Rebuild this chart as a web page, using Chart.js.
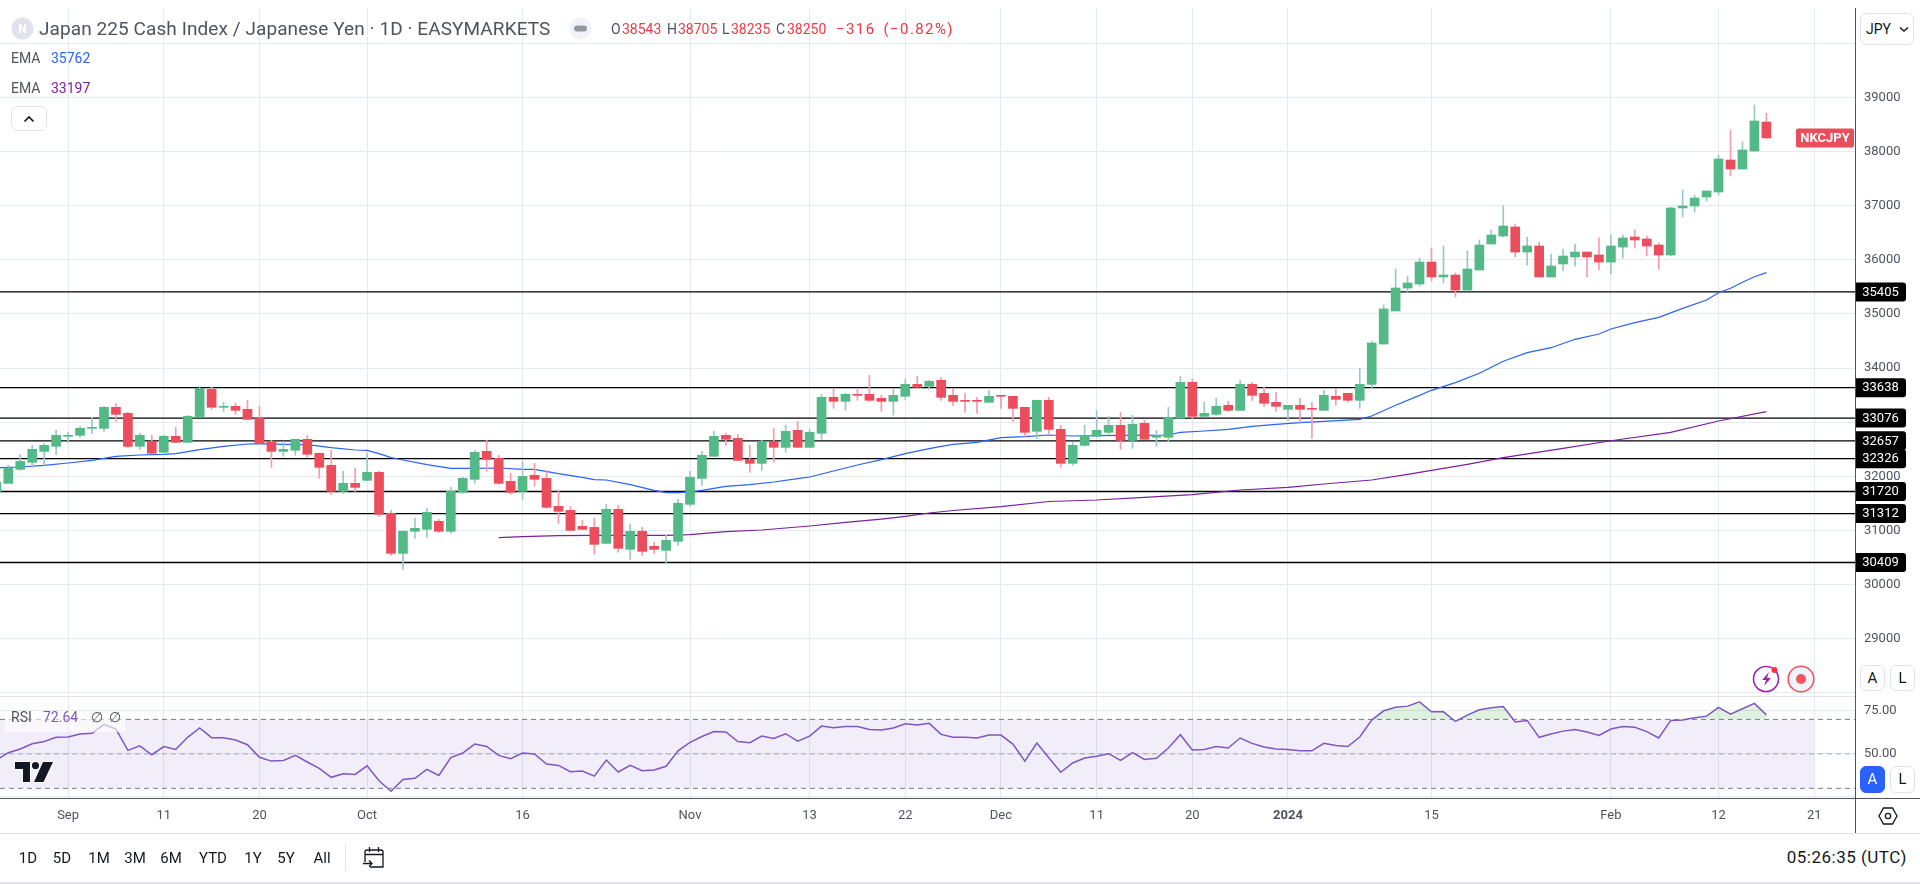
<!DOCTYPE html>
<html>
<head>
<meta charset="utf-8">
<script src="https://cdn.jsdelivr.net/npm/chart.js@4"></script>
<style>
  html, body { margin: 0; padding: 0; background: #fff; overflow: hidden; }
  body { width: 1920px; height: 884px; position: relative; font-family: Roboto, sans-serif; color: #50535e; }
  canvas { position: absolute; left: 0; }
  .t { position: absolute; white-space: nowrap; line-height: 20px; font-size: 14px; }
  .r { color: #f23645; }
  .line { position: absolute; }
  .btn { position: absolute; box-sizing: border-box; border: 1px solid #e0e3eb; border-radius: 6px; background: #fff;
         text-align: center; color: #131722; font-size: 15px; }
  .rng { position: absolute; top: 848px; line-height: 20px; font-size: 15px; color: #131722; transform: translateX(-50%); }
</style>
</head>
<body>
<canvas id="main" width="1920" height="688" style="top:8px"></canvas>
<canvas id="rsi" width="1920" height="136" style="top:697px"></canvas>

<div class="line" style="left:0;top:696px;width:1855px;height:1px;background:#e0e3eb"></div>
<div class="line" style="left:0;top:798px;width:1920px;height:1px;background:#50535e"></div>
<div class="line" style="left:1855px;top:8px;width:1px;height:825px;background:#50535e"></div>
<div class="line" style="left:0;top:833px;width:1920px;height:1px;background:#e0e3eb"></div>
<div class="line" style="left:0;top:882px;width:1920px;height:2px;background:#e0e3eb"></div>
<div class="line" style="left:345px;top:844px;width:1px;height:27px;background:#e0e3eb"></div>

<svg style="position:absolute;left:11px;top:17px" width="23" height="23"><circle cx="11.5" cy="11.5" r="11" fill="#e0e3eb"/><text x="11.5" y="16" text-anchor="middle" font-size="12" font-weight="700" fill="#fff" font-family="Roboto">N</text></svg>
<div class="t" style="left:39px;top:19px;font-size:19px;letter-spacing:.08px">Japan 225 Cash Index / Japanese Yen · 1D · EASYMARKETS</div>
<svg style="position:absolute;left:569px;top:17px" width="23" height="23"><circle cx="11.5" cy="11.5" r="11" fill="#f0f3fa"/><rect x="5" y="8.5" width="13" height="6" rx="3" fill="#9598a1"/></svg>
<div class="t" style="left:611px;top:19px">O</div><div class="t r" style="left:622px;top:19px">38543</div>
<div class="t" style="left:667px;top:19px">H</div><div class="t r" style="left:678px;top:19px">38705</div>
<div class="t" style="left:722px;top:19px">L</div><div class="t r" style="left:731px;top:19px">38235</div>
<div class="t" style="left:776px;top:19px">C</div><div class="t r" style="left:787px;top:19px">38250</div>
<div class="t r" style="left:836px;top:19px;font-size:15px;letter-spacing:1.4px;word-spacing:3px">−316 (−0.82%)</div>

<div class="t" style="left:11px;top:48px">EMA</div><div class="t" style="left:51px;top:48px;color:#2962ff">35762</div>
<div class="t" style="left:11px;top:78px">EMA</div><div class="t" style="left:51px;top:78px;color:#7b1fa2">33197</div>
<div class="btn" style="left:11px;top:106px;width:36px;height:25px"><svg width="12" height="8" style="margin-top:8px"><path d="M1.5 6.5L6 2l4.5 4.5" fill="none" stroke="#131722" stroke-width="1.6"/></svg></div>

<div class="btn" style="left:1860px;top:13px;width:54px;height:32px;text-align:left;font-size:14px;line-height:30px;padding-left:5px">JPY<svg width="10" height="7" style="margin-left:8px;vertical-align:1px"><path d="M1 1.5l4 3.5 4-3.5" fill="none" stroke="#131722" stroke-width="1.5"/></svg></div>

<svg style="position:absolute;left:1752px;top:665px" width="30" height="28"><circle cx="14" cy="14" r="12.5" fill="none" stroke="#9c27b0" stroke-width="1.6"/><path d="M17 7l-7 8h4l-2 6 7-8h-4z" fill="#9c27b0"/><circle cx="22.5" cy="5" r="3" fill="#f23645"/></svg>
<svg style="position:absolute;left:1787px;top:665px" width="28" height="28"><circle cx="14" cy="14" r="12.8" fill="#f0f3fa" stroke="#f7525f" stroke-width="1.6"/><circle cx="14" cy="14" r="5" fill="#f7525f"/></svg>
<div class="btn" style="left:1860px;top:665px;width:25px;height:26px;line-height:24px">A</div>
<div class="btn" style="left:1890px;top:665px;width:25px;height:26px;line-height:24px">L</div>
<div class="btn" style="left:1860px;top:766px;width:25px;height:27px;line-height:25px;background:#2962ff;border-color:#2962ff;color:#fff">A</div>
<div class="btn" style="left:1890px;top:766px;width:25px;height:27px;line-height:25px">L</div>
<svg style="position:absolute;left:1878px;top:806px" width="20" height="20"><path d="M5.5 2h9l4.5 8-4.5 8h-9L1 10z" fill="none" stroke="#131722" stroke-width="1.3"/><circle cx="10" cy="10" r="2.6" fill="none" stroke="#131722" stroke-width="1.3"/></svg>

<div class="line" style="left:5px;top:712px;width:120px;height:20px;background:rgba(255,255,255,.6)"></div>
<div class="t" style="left:11px;top:707px">RSI</div>
<div class="t" style="left:43px;top:707px;color:#7e57c2">72.64</div>
<div class="t" style="left:91px;top:707px">∅</div>
<div class="t" style="left:109px;top:707px">∅</div>
<svg style="position:absolute;left:13px;top:760px" width="42" height="24"><g transform="translate(2,2)" stroke="#fff" stroke-width="2" paint-order="stroke"><path d="M0 0h15v20H8V7H0z" fill="#131722"/><circle cx="20.5" cy="3.6" r="3.6" fill="#131722"/><path d="M28 0h10l-9.5 20H19z" fill="#131722"/></g></svg>

<div class="rng" style="left:28px">1D</div>
<div class="rng" style="left:62px">5D</div>
<div class="rng" style="left:99px">1M</div>
<div class="rng" style="left:135px">3M</div>
<div class="rng" style="left:171px">6M</div>
<div class="rng" style="left:213px">YTD</div>
<div class="rng" style="left:253px">1Y</div>
<div class="rng" style="left:286px">5Y</div>
<div class="rng" style="left:322px">All</div>
<svg style="position:absolute;left:362px;top:845px" width="25" height="25"><path d="M3 7a2 2 0 0 1 2-2h14a2 2 0 0 1 2 2v15h-13M3 17V7M3 9.5h18M7.5 2v5M16.5 2v5" fill="none" stroke="#131722" stroke-width="1.3"/><path d="M1 18.5h9M7 15.5l3 3-3 3" fill="none" stroke="#131722" stroke-width="1.3"/></svg>
<div class="t" style="right:13px;top:847px;font-size:17px;letter-spacing:.5px;color:#131722">05:26:35 (UTC)</div>

<script>
// first candle sits at index -1, half cut off by the left edge
const firstBar = -1;

const opens = [
  31705, 31871, 32130, 32259, 32462, 32554, 32739, 32758, 32887, 32887,
  33275, 33164, 32554, 32647, 32444, 32739, 32628, 33090, 33607, 33275,
  33293, 33238, 33072, 32628, 32462, 32481, 32684, 32425, 32204, 31723,
  31871, 31926, 32074, 31317, 30578, 30985, 31022, 31169, 30985, 31705,
  31945, 32462, 32333, 31908, 31723, 32019, 31963, 31446, 31372, 31077,
  31058, 30763, 31391, 30652, 30985, 30708, 30634, 30800, 31483, 31963,
  32370, 32758, 32702, 32314, 32240, 32647, 32536, 32850, 32536, 32795,
  33459, 33385, 33515, 33515, 33441, 33385, 33478, 33699, 33663, 33773,
  33496, 33404, 33404, 33367, 33496, 33478, 33275, 32831, 33404, 32868,
  32240, 32573, 32739, 32813, 32942, 32665, 32979, 32721, 32721, 33072,
  33736, 33108, 33145, 33312, 33219, 33699, 33533, 33367, 33238, 33312,
  33256, 33219, 33478, 33533, 33404, 33699, 34444, 35054, 35478, 35552,
  35958, 35682, 35718, 35441, 35811, 36291, 36439, 36605, 36143, 36254,
  35682, 35922, 36051, 36143, 36088, 35958, 36235, 36420, 36383, 36272,
  36088, 36956, 36993, 37159, 37251, 37842, 37676, 38008, 38543
];
const highs = [
  31890, 32204, 32407, 32573, 32604, 32850, 32813, 32924, 33090, 33293,
  33349, 33182, 32795, 32758, 32758, 32905, 33127, 33663, 33644, 33367,
  33349, 33404, 33293, 32665, 32647, 32684, 32758, 32425, 32481, 32093,
  32148, 32425, 32093, 31372, 31003, 31225, 31409, 31206, 31797, 31982,
  32481, 32665, 32388, 32056, 32277, 32240, 32111, 31742, 31446, 31188,
  31225, 31483, 31465, 31114, 31058, 30781, 30911, 31576, 32093, 32462,
  32831, 32795, 32776, 32573, 32665, 32887, 32942, 33016, 32868, 33515,
  33626, 33533, 33607, 33866, 33496, 33607, 33792, 33847, 33773, 33829,
  33626, 33533, 33459, 33589, 33496, 33478, 33275, 33404, 33459, 32942,
  32628, 32942, 33219, 33108, 33182, 33127, 33034, 32850, 33275, 33847,
  33792, 33367, 33441, 33385, 33773, 33736, 33644, 33552, 33312, 33441,
  33367, 33589, 33626, 33533, 33995, 34499, 35165, 35829, 35700, 36032,
  36217, 36254, 35755, 36162, 36365, 36549, 36993, 36660, 36420, 36328,
  36106, 36199, 36291, 36143, 36402, 36457, 36457, 36549, 36439, 36309,
  36974, 37288, 37196, 37270, 37935, 38396, 38175, 38858, 38705
];
const lows = [
  31680, 31871, 32111, 32167, 32204, 32407, 32628, 32721, 32795, 32831,
  33016, 32530, 32499, 32425, 32407, 32628, 32628, 33090, 33238, 33201,
  33145, 33053, 32591, 32167, 32370, 32388, 32351, 31963, 31668, 31686,
  31723, 31926, 31262, 30541, 30283, 30855, 30874, 30966, 30948, 31686,
  31871, 32093, 31853, 31668, 31576, 31816, 31409, 31132, 31003, 31022,
  30560, 30763, 30597, 30468, 30541, 30578, 30394, 30726, 31446, 31834,
  32370, 32573, 32296, 32074, 32111, 32259, 32444, 32536, 32536, 32684,
  33256, 33219, 33404, 33385, 33201, 33127, 33422, 33644, 33607, 33404,
  33312, 33182, 33164, 33367, 33256, 33016, 32721, 32702, 32795, 32167,
  32204, 32554, 32721, 32776, 32499, 32517, 32684, 32554, 32647, 33072,
  33072, 33108, 33127, 33201, 33219, 33404, 33293, 33201, 33034, 32979,
  32702, 33219, 33312, 33367, 33256, 33631, 34444, 35054, 35404, 35515,
  35608, 35571, 35312, 35423, 35811, 36291, 36420, 36051, 35903, 35682,
  35682, 35792, 35885, 35682, 35811, 35737, 36032, 36217, 36069, 35829,
  36069, 36790, 36882, 37085, 37196, 37547, 37676, 38008, 38235
];
const closes = [
  31890, 32154, 32277, 32499, 32573, 32758, 32758, 32887, 32905, 33275,
  33145, 32554, 32758, 32425, 32739, 32628, 33108, 33626, 33275, 33293,
  33219, 33053, 32610, 32462, 32499, 32684, 32407, 32167, 31723, 31871,
  31797, 32074, 31299, 30578, 30985, 31040, 31335, 30985, 31723, 31963,
  32444, 32314, 31871, 31705, 32000, 31945, 31428, 31354, 31003, 31022,
  30745, 31391, 30671, 30985, 30615, 30652, 30818, 31502, 31982, 32388,
  32739, 32684, 32296, 32240, 32647, 32536, 32831, 32536, 32813, 33459,
  33385, 33515, 33496, 33404, 33385, 33496, 33699, 33644, 33755, 33459,
  33385, 33385, 33385, 33478, 33478, 33256, 32813, 33404, 32868, 32240,
  32573, 32758, 32850, 32942, 32665, 32961, 32684, 32739, 33090, 33736,
  33108, 33164, 33293, 33219, 33699, 33496, 33349, 33293, 33312, 33238,
  33238, 33496, 33422, 33404, 33699, 34463, 35091, 35478, 35571, 35958,
  35682, 35718, 35441, 35829, 36272, 36457, 36623, 36143, 36254, 35682,
  35885, 36069, 36143, 36051, 35958, 36254, 36402, 36365, 36254, 36088,
  36956, 36993, 37140, 37270, 37861, 37676, 38027, 38562, 38250
];

// EMA lines, vertices
const emaFastBars = [-1, 1, 3, 5, 7, 9, 11, 13, 14, 16, 18, 20, 21, 23, 25, 27, 29, 30, 31, 32, 33, 35, 37, 39, 41, 43, 44, 46, 48, 49, 50, 52, 54, 55, 56, 57, 58, 60, 62, 64, 66, 67, 69, 71, 73, 75, 77, 78, 79, 81, 83, 85, 87, 89, 91, 93, 95, 97, 98, 100, 102, 104, 106, 108, 110, 113, 114, 116, 118, 119, 121, 123, 125, 127, 129, 131, 133, 134, 136, 138, 140, 142, 143, 144, 145, 146, 147];
const emaFastVals = [32160, 32173, 32204, 32247, 32296, 32370, 32394, 32407, 32419, 32493, 32554, 32598, 32604, 32591, 32585, 32530, 32487, 32481, 32419, 32345, 32302, 32216, 32148, 32148, 32154, 32130, 32130, 32050, 31982, 31939, 31933, 31846, 31742, 31699, 31699, 31711, 31742, 31816, 31846, 31896, 31957, 31988, 32099, 32210, 32308, 32419, 32511, 32554, 32591, 32628, 32714, 32733, 32764, 32745, 32751, 32758, 32758, 32764, 32813, 32838, 32868, 32924, 32961, 32992, 33016, 33053, 33115, 33312, 33496, 33589, 33730, 33903, 34125, 34284, 34376, 34531, 34629, 34722, 34838, 34937, 35103, 35257, 35392, 35473, 35584, 35687, 35762];
const emaSlowBars = [41, 43, 46, 49, 52, 55, 57, 60, 63, 67, 70, 73, 75, 77, 79, 83, 87, 91, 95, 99, 103, 107, 110, 114, 117, 122, 125, 130, 134, 139, 143, 147];
const emaSlowVals = [30868, 30886, 30905, 30911, 30911, 30911, 30923, 30979, 31009, 31083, 31151, 31212, 31262, 31323, 31370, 31440, 31536, 31563, 31613, 31661, 31748, 31798, 31859, 31933, 32038, 32223, 32345, 32518, 32658, 32813, 33022, 33197];

const rsiVals = [
  46.4, 50.7, 52.8, 55.9, 57.2, 59.6, 59.8, 61.5, 61.9, 67.1,
  64.4, 52.0, 54.7, 49.5, 54.2, 52.6, 59.6, 65.0, 59.4, 59.4,
  58.0, 55.3, 48.0, 45.8, 46.2, 49.1, 45.3, 41.6, 36.4, 38.5,
  38.1, 43.1, 34.4, 28.3, 35.2, 35.8, 41.0, 37.5, 47.8, 50.5,
  55.7, 54.3, 49.1, 47.2, 50.5, 49.9, 44.1, 43.3, 39.7, 40.0,
  37.1, 46.4, 39.5, 43.3, 40.2, 40.6, 42.8, 51.8, 56.7, 60.1,
  63.0, 62.7, 57.2, 56.5, 60.3, 59.0, 61.7, 57.4, 60.3, 66.1,
  65.2, 65.9, 65.9, 64.2, 63.8, 65.0, 67.5, 66.7, 67.7, 61.3,
  59.6, 59.6, 59.2, 60.9, 60.9, 55.7, 45.8, 56.3, 47.8, 39.3,
  44.7, 47.6, 48.6, 50.1, 46.2, 50.7, 46.8, 47.4, 53.4, 61.1,
  52.2, 52.6, 54.3, 53.4, 59.2, 56.1, 54.0, 52.8, 52.6, 51.8,
  51.8, 56.1, 54.9, 54.3, 59.8, 69.6, 75.0, 77.1, 77.7, 80.2,
  74.4, 74.4, 68.8, 72.5, 75.6, 76.8, 77.5, 68.5, 69.4, 59.6,
  61.5, 63.2, 64.2, 62.7, 60.7, 64.4, 65.9, 65.4, 62.9, 59.2,
  69.4, 69.6, 71.0, 71.9, 77.0, 73.1, 76.2, 79.3, 72.64
];

const levels = [35405, 33638, 33076, 32657, 32326, 31720, 31312, 30409];
const priceTicks = [40000, 39000, 38000, 37000, 36000, 35000, 34000, 33000, 32000, 31000, 30000, 29000, 28000];
const hiddenPriceTicks = [40000, 28000];
const rsiTicks = [75, 50, 25];
const timeBars = [5, 13, 21, 30, 43, 57, 67, 75, 83, 91, 99, 107, 119, 134, 143, 151];
const timeLabels = ['Sep', '11', '20', 'Oct', '16', 'Nov', '13', '22', 'Dec', '11', '20', '2024', '15', 'Feb', '12', '21'];

const barIdx = closes.map((c, i) => i + firstBar);
const xMin = -0.694, xMax = 154.41;
const green = '#53b987', red = '#eb4d5c';
const greenWick = '#9cc6c8', redWick = '#f59cab';
const gridColor = '#e3eaf0';

const isUp = i => closes[i] >= opens[i];

// tick label padding would otherwise inset the plot area
function noPadding(s) {
  s.paddingTop = 0;
  s.paddingBottom = 0;
  s.paddingLeft = 0;
  s.paddingRight = 0;
}

function makeXScale(showLabels) {
  return {
    type: 'linear', min: xMin, max: xMax, offset: false,
    afterBuildTicks: s => { s.ticks = timeBars.map(v => ({ value: v })); },
    afterFit: s => { s.height = showLabels ? 35 : 0; noPadding(s); },
    border: { display: false },
    grid: { color: gridColor, drawTicks: false, offset: false },
    ticks: {
      display: showLabels, autoSkip: false, maxRotation: 0, padding: 10, color: '#50535e',
      font: ctx => ({ family: 'Roboto', size: 13, weight: ctx.tick && ctx.tick.value === 107 ? 'bold' : 'normal' }),
      callback: v => timeLabels[timeBars.indexOf(v)]
    }
  };
}

const tagsPlugin = {
  id: 'tags',
  afterDraw(chart) {
    const ctx = chart.ctx, y = chart.scales.y;
    ctx.save();
    ctx.textAlign = 'center';
    ctx.textBaseline = 'middle';
    levels.forEach(l => {
      const py = y.getPixelForValue(l);
      ctx.fillStyle = '#000';
      ctx.beginPath();
      ctx.roundRect(1855, py - 9.5, 51, 19, [0, 3, 3, 0]);
      ctx.fill();
      ctx.fillStyle = '#fff';
      ctx.font = '13px Roboto';
      ctx.fillText(String(l), 1880.5, py + 0.5);
    });
    const last = closes[closes.length - 1], py = y.getPixelForValue(last);
    ctx.fillStyle = red;
    ctx.beginPath();
    ctx.roundRect(1796, py - 9.5, 58, 19, 2);
    ctx.fill();
    ctx.fillStyle = '#fff';
    ctx.font = 'bold 13px Roboto';
    ctx.fillText('NKCJPY', 1825, py + 0.5);
    ctx.restore();
  }
};

const flatLine = (v, x0, x1) => [{ x: x0, y: v }, { x: x1, y: v }];

new Chart(document.getElementById('main'), {
  type: 'bar',
  plugins: [tagsPlugin],
  data: {
    datasets: [
      {
        label: 'body', order: 1, barThickness: 9,
        data: barIdx.map((x, i) => ({ x, y: [opens[i], closes[i]] })),
        backgroundColor: barIdx.map((x, i) => isUp(i) ? green : red)
      },
      {
        label: 'wick', order: 2, barThickness: 1,
        data: barIdx.map((x, i) => ({ x, y: [lows[i], highs[i]] })),
        backgroundColor: barIdx.map((x, i) => isUp(i) ? greenWick : redWick)
      },
      {
        type: 'line', label: 'EMA', order: 3, borderColor: '#2962ff', borderWidth: 1.2, pointRadius: 0, tension: 0,
        data: emaFastBars.map((x, i) => ({ x, y: emaFastVals[i] }))
      },
      {
        type: 'line', label: 'EMA', order: 3, borderColor: '#7b1fa2', borderWidth: 1.2, pointRadius: 0, tension: 0,
        data: emaSlowBars.map((x, i) => ({ x, y: emaSlowVals[i] }))
      },
      ...levels.map(l => ({
        type: 'line', label: String(l), order: 4, borderColor: '#000', borderWidth: 1.3, pointRadius: 0,
        data: flatLine(l, xMin, xMax)
      }))
    ]
  },
  options: {
    responsive: false,
    animation: false,
    events: [],
    layout: { padding: 0, autoPadding: false },
    datasets: { bar: { grouped: false } },
    plugins: { legend: { display: false }, tooltip: { enabled: false } },
    scales: {
      x: makeXScale(false),
      y: {
        position: 'right', min: 27944, max: 40649,
        afterBuildTicks: s => { s.ticks = priceTicks.map(v => ({ value: v })); },
        afterFit: s => { s.width = 65; noPadding(s); },
        border: { display: false },
        grid: { color: gridColor, drawTicks: false },
        ticks: {
          padding: 9, color: '#50535e', font: { family: 'Roboto', size: 13 },
          callback: v => hiddenPriceTicks.includes(v) ? '' : String(v)
        }
      }
    }
  }
});

new Chart(document.getElementById('rsi'), {
  type: 'line',
  data: {
    datasets: [
      {
        label: 'RSI', order: 1, borderColor: '#7e57c2', borderWidth: 1.5, pointRadius: 0, tension: 0,
        data: barIdx.map((x, i) => ({ x, y: rsiVals[i] })),
        fill: { target: { value: 70 }, above: 'rgba(76,175,80,0.18)', below: 'transparent' }
      },
      {
        label: 'upper', order: 2, borderColor: '#787b86', borderWidth: 1, borderDash: [5, 4], pointRadius: 0,
        data: flatLine(70, xMin, xMax)
      },
      {
        label: 'middle', order: 2, borderColor: 'rgba(120,123,134,0.6)', borderWidth: 1, borderDash: [5, 4], pointRadius: 0,
        data: flatLine(50, xMin, xMax)
      },
      {
        label: 'lower', order: 2, borderColor: '#787b86', borderWidth: 1, borderDash: [5, 4], pointRadius: 0,
        data: flatLine(30, xMin, xMax)
      },
      {
        label: 'band', order: 3, borderWidth: 0, pointRadius: 0,
        data: flatLine(70, xMin, 151),
        fill: { target: { value: 30 } }, backgroundColor: 'rgba(126,87,194,0.1)'
      }
    ]
  },
  options: {
    responsive: false,
    animation: false,
    events: [],
    layout: { padding: 0, autoPadding: false },
    plugins: { legend: { display: false }, tooltip: { enabled: false } },
    scales: {
      x: makeXScale(true),
      y: {
        position: 'right', min: 24.4, max: 83,
        afterBuildTicks: s => { s.ticks = rsiTicks.map(v => ({ value: v })); },
        afterFit: s => { s.width = 65; noPadding(s); },
        border: { display: false },
        grid: { color: gridColor, drawTicks: false },
        ticks: {
          padding: 9, color: '#50535e', font: { family: 'Roboto', size: 13 },
          callback: v => v === 25 ? '' : v.toFixed(2)
        }
      }
    }
  }
});
</script>
</body>
</html>
